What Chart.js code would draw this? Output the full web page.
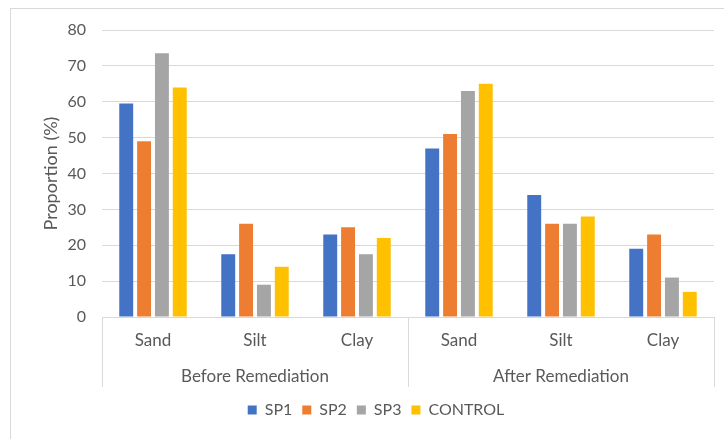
<!DOCTYPE html>
<html>
<head>
<meta charset="utf-8">
<script src="https://cdn.jsdelivr.net/npm/chart.js@4.4.1/dist/chart.umd.min.js"></script>
<style>
  body { margin: 0; background: #fff; }
  canvas { display: block; }
</style>
</head>
<body>
<canvas id="soilChart" width="724" height="439"></canvas>
<script>
// categories
const fractions = ['Sand', 'Silt', 'Clay', 'Sand', 'Silt', 'Clay'];
const stages = ['Before Remediation', 'After Remediation'];

// series values (before: sand, silt, clay | after: sand, silt, clay)
const sp1 = [59.5, 17.5, 23, 47, 34, 19];
const sp2 = [49, 26, 25, 51, 26, 23];
const sp3 = [73.5, 9, 17.5, 63, 26, 11];
const control = [64, 14, 22, 65, 28, 7];

const yTicks = [0, 10, 20, 30, 40, 50, 60, 70, 80];

const textColor = '#595959';
const lineColor = '#d9d9d9';
const fontFamily = 'Lato, "Open Sans", sans-serif';

// draws the outer frame and the two level category axis
const groupAxis = {
    id: 'groupAxis',
    beforeDraw(chart) {
        const ctx = chart.ctx;
        ctx.save();
        ctx.strokeStyle = lineColor;
        ctx.lineWidth = 1;
        ctx.strokeRect(10.5, 8.5, 800, 600);
        ctx.restore();
    },
    afterDraw(chart) {
        const ctx = chart.ctx;
        const area = chart.chartArea;
        const x = chart.scales.x;
        const bottom = area.bottom + 70;
        ctx.save();
        ctx.strokeStyle = lineColor;
        ctx.lineWidth = 1;
        ctx.beginPath();
        ctx.moveTo(area.left, area.bottom + 0.5);
        ctx.lineTo(area.right, area.bottom + 0.5);
        const edges = [area.left, (x.getPixelForTick(2) + x.getPixelForTick(3)) / 2, area.right];
        edges.forEach(e => {
            const px = Math.round(e) + 0.5;
            ctx.moveTo(px, area.bottom);
            ctx.lineTo(px, bottom);
        });
        ctx.stroke();

        ctx.fillStyle = textColor;
        ctx.font = '17px ' + fontFamily;
        ctx.textAlign = 'center';
        ctx.textBaseline = 'middle';
        stages.forEach((s, i) => {
            const cx = (x.getPixelForTick(i * 3) + x.getPixelForTick(i * 3 + 2)) / 2;
            ctx.fillText(s, cx, area.bottom + 60);
        });
        ctx.restore();
    }
};

const ctx = document.getElementById('soilChart').getContext('2d');

new Chart(ctx, {
    type: 'bar',
    data: {
        labels: fractions,
        datasets: [
            { label: 'SP1', data: sp1, backgroundColor: '#4472c4' },
            { label: 'SP2', data: sp2, backgroundColor: '#ed7d31' },
            { label: 'SP3', data: sp3, backgroundColor: '#a5a5a5' },
            { label: 'CONTROL', data: control, backgroundColor: '#ffc000' }
        ]
    },
    options: {
        responsive: false,
        animation: false,
        categoryPercentage: 0.70,
        barPercentage: 0.78,
        layout: {
            padding: { left: 38, right: 10, top: 30, bottom: 11 }
        },
        plugins: {
            legend: {
                position: 'bottom',
                labels: {
                    boxWidth: 9,
                    boxHeight: 9,
                    padding: 10,
                    color: textColor,
                    font: { family: fontFamily, size: 16 }
                }
            },
            tooltip: { enabled: false }
        },
        scales: {
            x: {
                grid: { display: false, drawTicks: false },
                border: { display: false },
                ticks: {
                    color: textColor,
                    padding: 13,
                    font: { family: fontFamily, size: 17 }
                },
                afterFit(scale) { scale.height = 75; }
            },
            y: {
                min: 0,
                max: 80,
                afterBuildTicks(scale) { scale.ticks = yTicks.map(v => ({ value: v })); },
                grid: { color: lineColor, drawTicks: false },
                border: { display: false },
                ticks: {
                    color: textColor,
                    padding: 16,
                    font: { family: fontFamily, size: 16 }
                },
                title: {
                    display: true,
                    text: 'Proportion (%)',
                    color: textColor,
                    padding: { top: 2, bottom: 0 },
                    font: { family: fontFamily, size: 18 }
                },
                afterFit(scale) { scale.width = 64; }
            }
        }
    },
    plugins: [groupAxis]
});
</script>
</body>
</html>
